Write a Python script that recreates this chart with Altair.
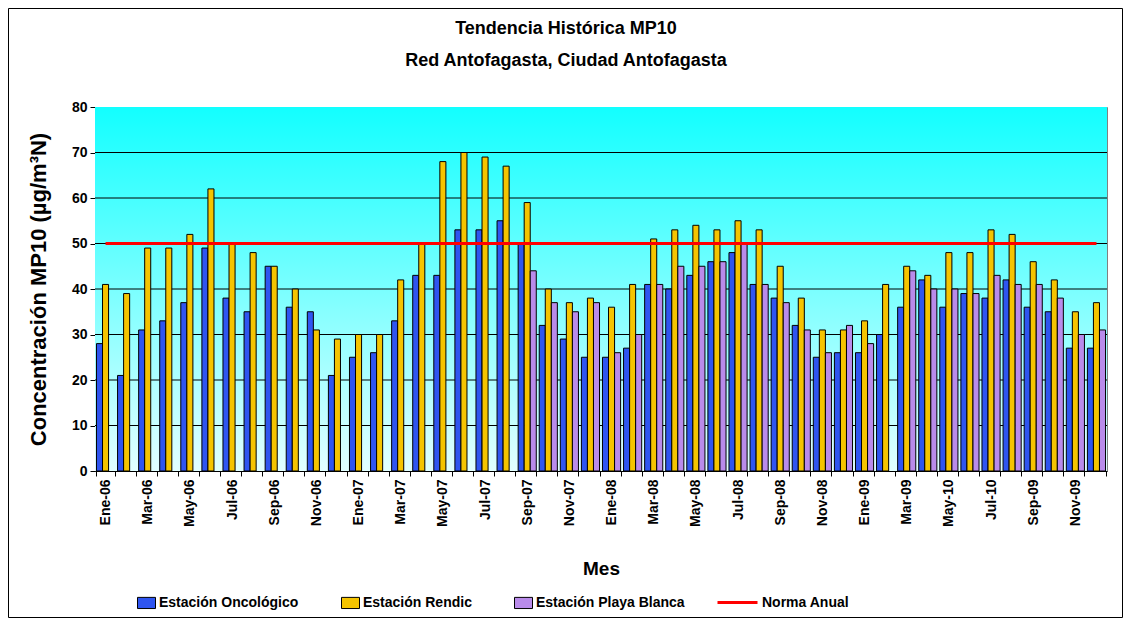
import json
import altair as alt
import pandas as pd

# ---------------- data ----------------
months = [
    "Ene-06", "Feb-06", "Mar-06", "Abr-06", "May-06", "Jun-06", "Jul-06", "Ago-06", "Sep-06", "Oct-06", "Nov-06", "Dic-06",
    "Ene-07", "Feb-07", "Mar-07", "Abr-07", "May-07", "Jun-07", "Jul-07", "Ago-07", "Sep-07", "Oct-07", "Nov-07", "Dic-07",
    "Ene-08", "Feb-08", "Mar-08", "Abr-08", "May-08", "Jun-08", "Jul-08", "Ago-08", "Sep-08", "Oct-08", "Nov-08", "Dic-08",
    "Ene-09", "Feb-09", "Mar-09", "Abr-09", "May-10", "Jun-09", "Jul-10", "Ago-09", "Sep-09", "Oct-09", "Nov-09", "Dic-09",
]
# tick labels shown on the axis (every other month)
shown_labels = months[::2]

oncologico = [28, 21, 31, 33, 37, 49, 38, 35, 45, 36, 35, 21,
              25, 26, 33, 43, 43, 53, 53, 55, 50, 32, 29, 25,
              25, 27, 41, 40, 43, 46, 48, 41, 38, 32, 25, 26,
              26, 30, 36, 42, 36, 39, 38, 42, 36, 35, 27, 27]
rendic = [41, 39, 49, 49, 52, 62, 50, 48, 45, 40, 31, 29,
          30, 30, 42, 50, 68, 70, 69, 67, 59, 40, 37, 38,
          36, 41, 51, 53, 54, 53, 55, 53, 45, 38, 31, 31,
          33, 41, 45, 43, 48, 48, 53, 52, 46, 42, 35, 37]
playa_blanca = [None] * 20 + [44, 37, 35, 37,
                              26, 30, 41, 45, 45, 46, 50, 41, 37, 31, 26, 32,
                              28, None, 44, 40, 40, 39, 43, 41, 41, 38, 30, 31]
norma_anual = 50

stations = ["Estación Oncológico", "Estación Rendic", "Estación Playa Blanca"]
station_colors = ["#2F55F0", "#F5C400", "#B98BEA"]
grid_values = [10, 20, 30, 40, 50, 60, 70]

title_lines = ["Tendencia Histórica MP10", "Red Antofagasta, Ciudad Antofagasta"]

rows = []
for name, series in zip(stations, [oncologico, rendic, playa_blanca]):
    for m, v in zip(months, series):
        if v is not None:
            rows.append({"month": m, "station": name, "value": v})
bars_df = pd.DataFrame(rows)
line_df = pd.DataFrame({"month": months, "v": [norma_anual] * len(months), "name": ["Norma Anual"] * len(months)})
grid_df = pd.DataFrame({"g": grid_values})

# ---------------- layout ----------------
W, H = 1012, 364
FONT = "Liberation Sans"
PAD = {"left": 87, "top": 99, "right": 16, "bottom": 147}

x_scale = alt.Scale(domain=months, paddingInner=0.14, paddingOuter=0.07)
y_scale = alt.Scale(domain=[0, 80], nice=False)

label_expr = "indexof(" + json.dumps(shown_labels) + ", datum.value) >= 0 ? datum.value : ''"

background = alt.Chart(alt.Data(values=[{}])).mark_rect(
    fill=alt.Gradient(
        gradient="linear",
        stops=[alt.GradientStop(color="#12FFFF", offset=0),
               alt.GradientStop(color="#E2FFFF", offset=1)],
        x1=0, x2=0, y1=0, y2=1,
    )
).encode(x=alt.value(0), x2=alt.value(W), y=alt.value(0), y2=alt.value(H))

grid = alt.Chart(grid_df).mark_rule(color="black", strokeWidth=1).encode(
    y=alt.Y("g:Q", scale=y_scale),
    x=alt.value(0), x2=alt.value(W),
)

bars = alt.Chart(bars_df).mark_bar(stroke="black", strokeWidth=1).encode(
    x=alt.X("month:N", sort=months, scale=x_scale,
            axis=alt.Axis(title="Mes", labelAngle=-90, labelExpr=label_expr, labelOverlap=False,
                          labelFontSize=14, labelFontWeight="bold", labelColor="black", labelPadding=3,
                          labelFont=FONT, tickBand="extent", tickSize=5, tickColor="black",
                          domainColor="black", titleFontSize=19, titleFontWeight="bold",
                          titleFont=FONT, titleColor="black", titleY=97, titleBaseline="middle")),
    xOffset=alt.XOffset("station:N", sort=stations,
                        scale=alt.Scale(domain=stations, paddingInner=0, paddingOuter=0)),
    y=alt.Y("value:Q", scale=y_scale,
            axis=alt.Axis(values=[0, 10, 20, 30, 40, 50, 60, 70, 80], grid=False,
                          title="Concentración MP10 (µg/m³N)", titleFontSize=22, titleFontWeight="bold",
                          titleFont=FONT, titleColor="black", titleX=-57, titleY=H / 2,
                          titleAngle=-90, titleAlign="center", titleBaseline="middle",
                          labelFontSize=14, labelFontWeight="bold", labelFont=FONT, labelColor="black",
                          labelPadding=3, tickSize=5, tickColor="black", domainColor="black")),
    color=alt.Color("station:N", sort=stations,
                    scale=alt.Scale(domain=stations, range=station_colors),
                    legend=alt.Legend(title=None, orient="none", legendX=42, legendY=486,
                                      direction="horizontal", symbolType="M-1,-0.62H1V0.62H-1Z",
                                      symbolSize=324, symbolStrokeColor="black", symbolStrokeWidth=1,
                                      labelFontSize=14, labelFontWeight="bold", labelFont=FONT,
                                      labelColor="black", columnPadding=40, labelOffset=3)),
)

norma = alt.Chart(line_df).mark_line(strokeWidth=3).encode(
    x=alt.X("month:N", sort=months, scale=x_scale),
    y=alt.Y("v:Q", scale=y_scale),
    stroke=alt.Stroke("name:N", scale=alt.Scale(domain=["Norma Anual"], range=["#FF0000"]),
                      legend=alt.Legend(title=None, orient="none", legendX=621, legendY=474,
                                        symbolType="stroke", symbolSize=1600, symbolStrokeWidth=3,
                                        labelFontSize=14, labelFontWeight="bold", labelFont=FONT,
                                        labelColor="black", labelOffset=3)),
)

title1 = alt.Chart(alt.Data(values=[{"t": title_lines[0]}])).mark_text(
    fontSize=18, fontWeight="bold", font=FONT, color="black", align="center", baseline="middle"
).encode(text="t:N", x=alt.value(471), y=alt.value(-78))

title2 = alt.Chart(alt.Data(values=[{"t": title_lines[1]}])).mark_text(
    fontSize=18, fontWeight="bold", font=FONT, color="black", align="center", baseline="middle"
).encode(text="t:N", x=alt.value(471), y=alt.value(-46))

frame = alt.Chart(alt.Data(values=[{}])).mark_rect(
    fill="white", fillOpacity=0, stroke="black", strokeWidth=1
).encode(x=alt.value(-PAD["left"] + 0.5), x2=alt.value(W + PAD["right"] - 0.5),
         y=alt.value(-PAD["top"] + 0.5), y2=alt.value(H + PAD["bottom"] - 0.5))

chart = alt.layer(background, grid, bars, norma, title1, title2, frame).resolve_scale(
    color="independent", stroke="independent"
).properties(
    width=W, height=H,
    autosize=alt.AutoSizeParams(type="none"),
    padding=PAD,
).configure(font=FONT).configure_view(stroke="#808080", strokeWidth=1)

chart.save("out.html", embed_options={"renderer": "svg", "actions": False})
